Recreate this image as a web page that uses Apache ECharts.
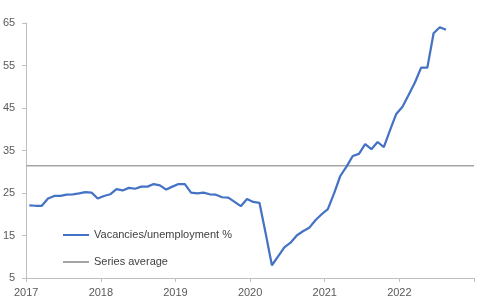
<!DOCTYPE html>
<html>
<head>
<meta charset="utf-8">
<script src="https://cdn.jsdelivr.net/npm/echarts@6/dist/echarts.min.js"></script>
<style>html,body{margin:0;padding:0;background:#fff}#c{width:480px;height:303px}</style>
</head>
<body>
<div id="c"></div>
<script>
// Monthly observations, Jan 2017 .. Aug 2022
const months = [];
for (let y = 2017; y <= 2022; y++) for (let m = 1; m <= 12; m++) months.push(y + '-' + String(m).padStart(2, '0'));
const ratio = [
  22.1, 22.0, 22.0, 23.7, 24.3, 24.3, 24.6, 24.7, 24.9, 25.2, 25.1, 23.7,
  24.3, 24.7, 25.9, 25.6, 26.2, 26.0, 26.5, 26.5, 27.1, 26.8, 25.8, 26.5,
  27.1, 27.1, 25.1, 24.9, 25.1, 24.7, 24.6, 24.0, 23.9, 22.9, 21.9, 23.6,
  22.9, 22.7, 15.5, 8.0, 10.1, 12.2, 13.3, 15.0, 16.0, 16.8, 18.6, 20.0,
  21.2, 24.9, 29.0, 31.2, 33.7, 34.2, 36.5, 35.3, 37.0, 35.8, 39.8, 43.6,
  45.3, 48.1, 51.0, 54.5, 54.5, 62.6, 64.0, 63.4
];
const seriesAverage = 31.4;
const yTicks = [5, 15, 25, 35, 45, 55, 65];
const xYears = [2017, 2018, 2019, 2020, 2021, 2022, 2023];
const xTickLabels = ['2017', '2018', '2019', '2020', '2021', '2022', ''];

const nMonths = (xYears[xYears.length - 1] - xYears[0]) * 12;
const lineData = ratio.map((v, i) => [i + 0.5, v]);
const avgData = [[0, seriesAverage], [nMonths, seriesAverage]];

const chart = echarts.init(document.getElementById('c'), null, {renderer: 'canvas'});
const fontFam = '"Liberation Sans", Arial, sans-serif';
chart.setOption({
  animation: false,
  backgroundColor: '#ffffff',
  grid: {left: 25, right: 6, top: 23, bottom: 25, containLabel: false},
  xAxis: {
    type: 'value', min: 0, max: nMonths, interval: 12,
    axisLine: {show: true, lineStyle: {color: '#bfbfbf', width: 1}},
    axisTick: {show: true, length: 4, lineStyle: {color: '#bfbfbf'}},
    splitLine: {show: false},
    axisLabel: {color: '#595959', fontSize: 11, fontFamily: fontFam, margin: 9,
      formatter: v => xTickLabels[Math.round(v / 12)]}
  },
  yAxis: {
    type: 'value', min: yTicks[0], max: yTicks[yTicks.length - 1], interval: 10,
    axisLine: {show: true, lineStyle: {color: '#bfbfbf', width: 1}},
    axisTick: {show: true, length: 4, lineStyle: {color: '#bfbfbf'}},
    splitLine: {show: false},
    axisLabel: {color: '#595959', fontSize: 11, fontFamily: fontFam, margin: 11}
  },
  legend: {
    orient: 'vertical', left: 58, top: 223, itemWidth: 26, itemHeight: 2, itemGap: 13,
    textStyle: {color: '#404040', fontSize: 11, fontFamily: fontFam, lineHeight: 14},
    data: [
      {name: 'Vacancies/unemployment %', icon: 'rect'},
      {name: 'Series average', icon: 'rect'}
    ]
  },
  series: [
    {name: 'Series average', type: 'line', data: avgData, symbol: 'none',
     lineStyle: {color: '#a5a5a5', width: 1.5}, itemStyle: {color: '#a5a5a5'}, z: 1},
    {name: 'Vacancies/unemployment %', type: 'line', data: lineData, symbol: 'none',
     lineStyle: {color: '#4472c4', width: 2.25}, itemStyle: {color: '#4472c4'}, z: 2}
  ]
});
</script>
</body>
</html>
